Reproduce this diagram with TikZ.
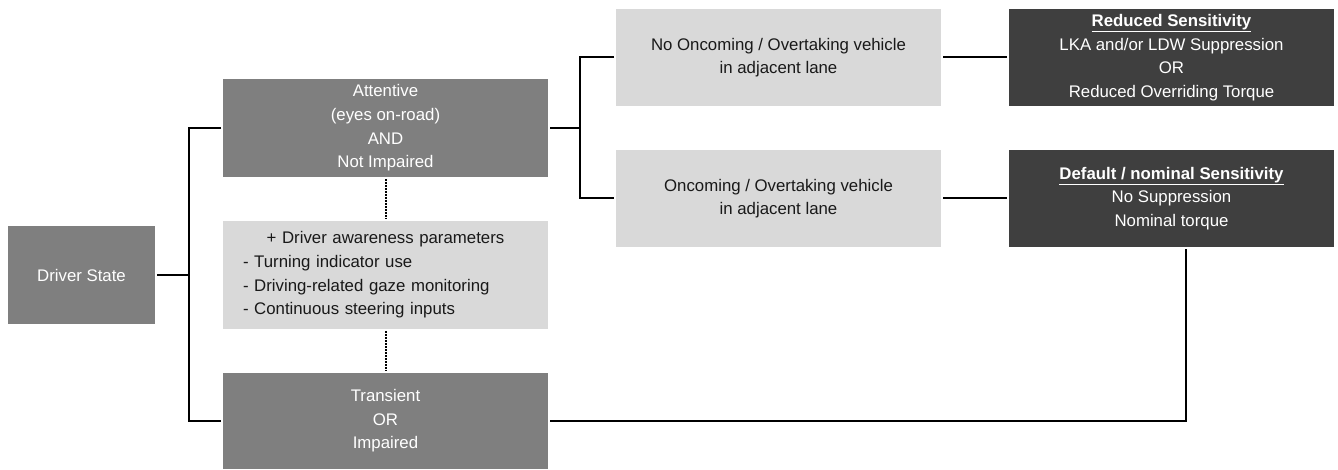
\documentclass[tikz,border=0pt]{standalone}
\usepackage{fontspec}
\setmainfont{Liberation Sans}
\definecolor{midgray}{HTML}{7F7F7F}
\definecolor{lightgray}{HTML}{D9D9D9}
\definecolor{darkgray}{HTML}{3F3F3F}
\begin{document}
\begin{tikzpicture}[x=1pt,y=-1pt,
  box/.style={rectangle, minimum width=325pt, minimum height=97pt, outer sep=2pt, align=center, font=\fontsize{16.8}{23.6}\selectfont},
  midbox/.style={box, fill=midgray, text=white},
  lightbox/.style={box, fill=lightgray, text=black!90},
  darkbox/.style={box, fill=darkgray, text=white},
  link/.style={line width=2pt},
  dots/.style={line width=2pt, dash pattern=on 1.6pt off 1.4pt}]
\useasboundingbox (0,0) rectangle (1338,470);
\node[midbox, minimum width=147pt, minimum height=98pt] (driver) at (81.5,275) {Driver State};
\node[midbox, minimum height=98pt] (attentive) at (385.5,128) {Attentive\\(eyes on-road)\\AND\\Not Impaired};
\node[lightbox, minimum height=108pt, text width=285pt, align=left] (aware) at (385.5,275) {\makebox[\linewidth]{+ Driver awareness parameters}\\- Turning indicator use\\- Driving-related gaze monitoring\\- Continuous steering inputs};
\node[midbox, minimum height=96pt] (transient) at (385.5,421) {Transient\\OR\\Impaired};
\node[lightbox] (novehicle) at (778.5,57.5) {No Oncoming / Overtaking vehicle\\in adjacent lane};
\node[lightbox] (vehicle) at (778.5,198.5) {Oncoming / Overtaking vehicle\\in adjacent lane};
\node[darkbox] (reduced) at (1171.5,57.5) {\underline{\textbf{Reduced Sensitivity}}\\LKA and/or LDW Suppression\\OR\\Reduced Overriding Torque};
\node[darkbox] (nominal) at (1171.5,198.5) {\underline{\textbf{Default / nominal Sensitivity}}\\No Suppression\\Nominal torque};

\coordinate (lsplit) at (189,275);
\coordinate (rsplit) at (580,128);
\coordinate (nomreturn) at (1186,249);

\draw[link] (driver) -- (lsplit);
\draw[link] (attentive.west) -| (lsplit) |- (transient.west);
\draw[link] (attentive) -- (rsplit);
\draw[link] (novehicle.west) -| (rsplit) |- (vehicle.west);
\draw[link] (novehicle) -- (reduced);
\draw[link] (vehicle) -- (nominal);
\draw[link] (transient.east) -| (nomreturn);
\draw[dots] (attentive) -- (aware);
\draw[dots] (aware) -- (transient);
\end{tikzpicture}
\end{document}
